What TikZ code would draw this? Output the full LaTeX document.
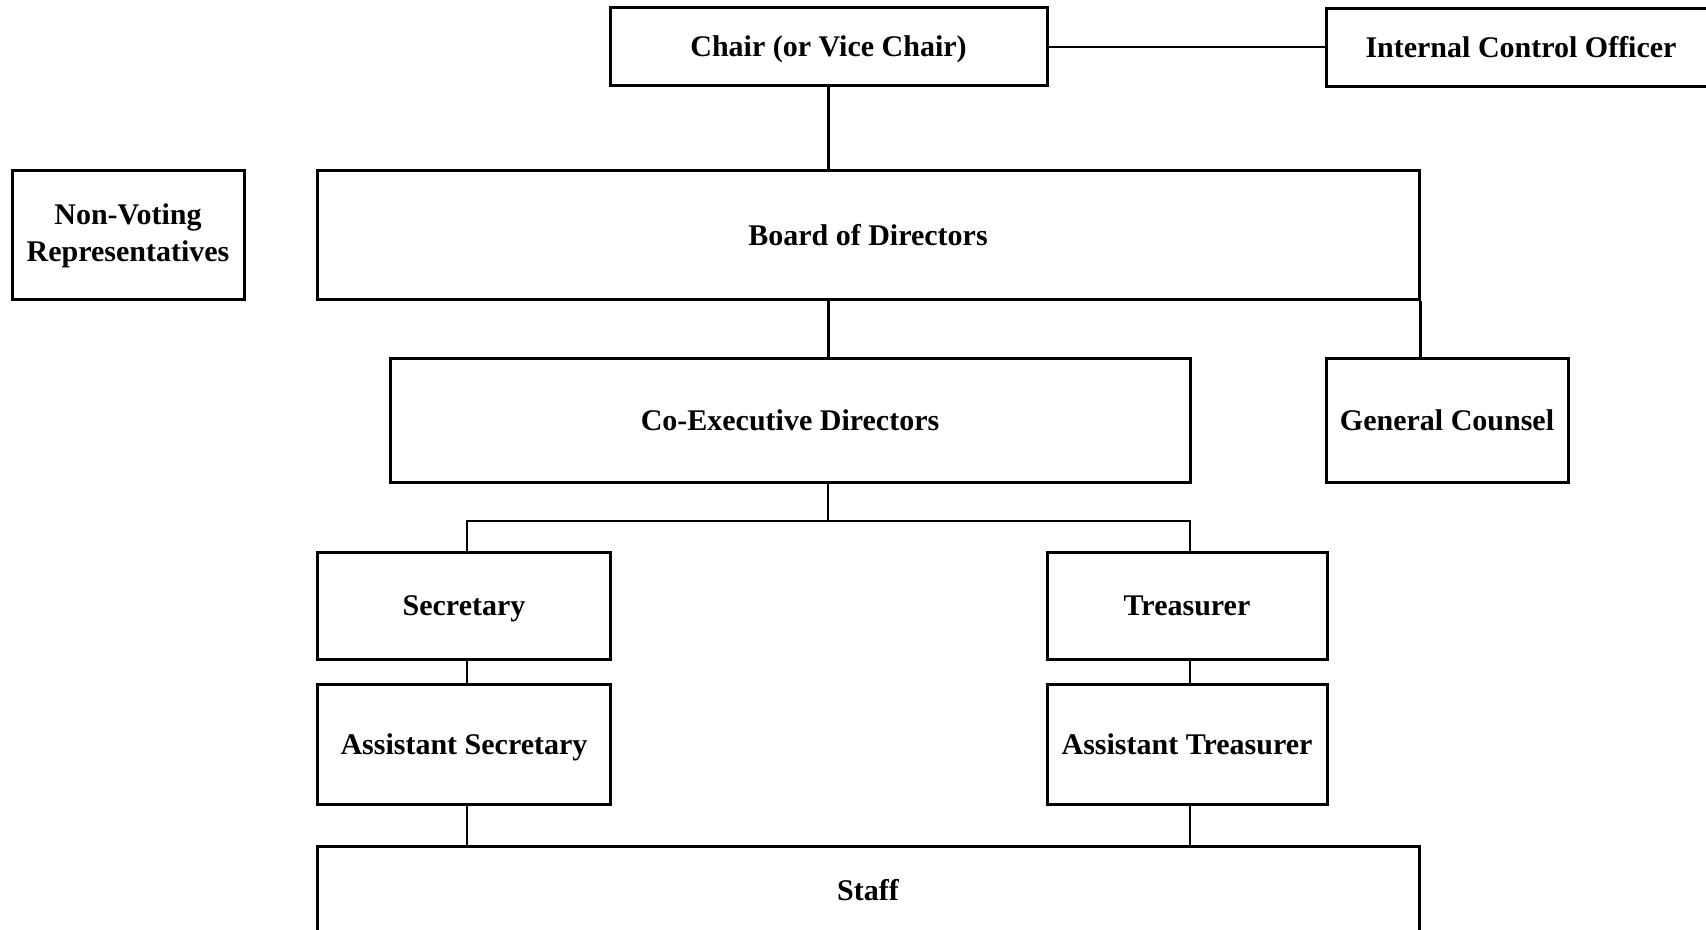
\documentclass[tikz,border=0pt]{standalone}
\usepackage{fontspec}
\setmainfont{Liberation Serif}
\begin{document}
\begin{tikzpicture}[x=0.5pt,y=-0.5pt,
  boxbase/.style={draw=black, line width=1.5pt, rectangle, inner sep=0pt, align=center,
    font=\bfseries\fontsize{15}{18.5}\selectfont},
  box/.style={boxbase, text height=10pt, text depth=0pt},
  conn/.style={draw=black, line width=1.3pt}]
\clip (0,0) rectangle (1706,930);
\fill[white] (0,0) rectangle (1706,930);
% nodes
\node[box, minimum width=218.5pt, minimum height=39pt] (chair) at (828.5,47) {Chair (or Vice Chair)};
\node[box, minimum width=195pt, minimum height=39pt] (ico) at (1521,47.5) {Internal Control Officer};
\node[boxbase, minimum width=116pt, minimum height=64.5pt] (nv) at (128,235.5) {Non-Voting\\Representatives};
\node[box, minimum width=551pt, minimum height=64.5pt] (board) at (868,235.5) {Board of Directors};
\node[box, minimum width=400pt, minimum height=61.5pt] (coexec) at (790,420.5) {Co-Executive Directors};
\node[box, minimum width=121pt, minimum height=61.5pt] (gc) at (1447,420.5) {General Counsel};
\node[box, minimum width=146.5pt, minimum height=53.5pt] (sec) at (464,605.5) {Secretary};
\node[box, minimum width=140pt, minimum height=53.5pt] (treas) at (1187,605.5) {Treasurer};
\node[box, minimum width=146.5pt, minimum height=60pt] (asec) at (464,744) {Assistant Secretary};
\node[box, minimum width=140pt, minimum height=60pt] (atreas) at (1187,744) {Assistant Treasurer};
\node[box, minimum width=551pt, minimum height=44pt] (staff) at (868,890) {Staff};
% connectors
\coordinate (bus) at (828,521);
\draw[conn] (chair.east) -- (chair.east -| ico.west);
\draw[conn] (chair.south) -- (chair.south |- board.north);
\draw[conn] (chair.south |- board.south) -- (chair.south |- coexec.north);
\draw[conn] (board.south east) -- (board.south east |- gc.north);
\draw[conn] (bus |- coexec.south) -- (bus);
\draw[conn] ([xshift=1.5pt]sec.north) |- (bus) -| ([xshift=1.5pt]treas.north);
\draw[conn] ([xshift=1.5pt]sec.south) -- ([xshift=1.5pt]asec.north);
\draw[conn] ([xshift=1.5pt]treas.south) -- ([xshift=1.5pt]atreas.north);
\draw[conn] ([xshift=1.5pt]asec.south) -- ([xshift=1.5pt]asec.south |- staff.north);
\draw[conn] ([xshift=1.5pt]atreas.south) -- ([xshift=1.5pt]atreas.south |- staff.north);
\end{tikzpicture}
\end{document}
